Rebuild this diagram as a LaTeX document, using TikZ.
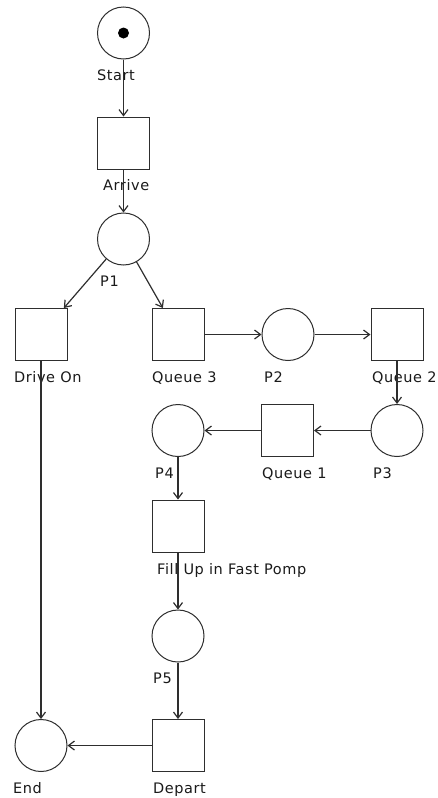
\documentclass[tikz,border=0pt]{standalone}
\usepackage{fontspec}
\setmainfont{DejaVu Sans}
\newfontfamily\lblfont[LetterSpace=4]{DejaVu Sans}
\usetikzlibrary{arrows.meta}
\definecolor{ln}{HTML}{2E2E2E}
\definecolor{tx}{HTML}{1A1A1A}
\begin{document}
\begin{tikzpicture}[x=1pt,y=-1pt,
 place/.style={circle,draw=ln,line width=1pt,minimum size=52pt,inner sep=0pt},
 trans/.style={rectangle,draw=ln,line width=1pt,minimum size=52pt,inner sep=0pt},
 token/.style={circle,fill=black,minimum size=11pt,inner sep=0pt},
 lbl/.style={anchor=base west,inner sep=0pt,font=\lblfont\fontsize{14.5}{16}\selectfont,text=tx},
 arc/.style={draw=ln,line width=1.2pt,-{Straight Barb[length=6pt,width=9pt]}}]
\useasboundingbox (0,0) rectangle (438,798);
% places and transitions
\node[place] (start) at (123.5,33) {};
\node[token] (tok) at (start) {};
\node[trans] (arrive) at (123.5,143) {};
\node[place] (p1) at (123.5,239) {};
\node[trans] (drive) at (41,334.5) {};
\node[trans] (q3) at (178,334.5) {};
\node[place] (p2) at (288,334.5) {};
\node[trans] (q2) at (397,334.5) {};
\node[place] (p3) at (397,430.5) {};
\node[trans] (q1) at (287.5,430.5) {};
\node[place] (p4) at (178,430.5) {};
\node[trans] (fill) at (178,526) {};
\node[place] (p5) at (178,636) {};
\node[trans] (depart) at (178,745.5) {};
\node[place] (end) at (41,745.5) {};
% labels
\node[lbl] (lstart) at (97,80) {Start};
\node[lbl] (larrive) at (103,190) {Arrive};
\node[lbl] (lp1) at (100,286) {P1};
\node[lbl] (ldrive) at (14,382) {Drive On};
\node[lbl] (lq3) at (152,382) {Queue 3};
\node[lbl] (lp2) at (264,382) {P2};
\node[lbl] (lq2) at (372,382) {Queue 2};
\node[lbl] (lp3) at (373,478) {P3};
\node[lbl] (lq1) at (262,478) {Queue 1};
\node[lbl] (lp4) at (155,478) {P4};
\node[lbl] (lfill) at (157,574) {Fill Up in Fast Pomp};
\node[lbl] (lp5) at (153,683) {P5};
\node[lbl] (ldepart) at (153,793) {Depart};
\node[lbl] (lend) at (13,793) {End};
% arcs
\draw[arc] (start) -- (arrive);
\draw[arc] (arrive) -- (p1);
\draw[arc] (p1) -- (drive);
\draw[arc] (p1) -- (q3);
\draw[arc] (q3) -- (p2);
\draw[arc] (p2) -- (q2);
\draw[arc] (q2) -- (p3);
\draw[arc] (p3) -- (q1);
\draw[arc] (q1) -- (p4);
\draw[arc] (p4) -- (fill);
\draw[arc] (fill) -- (p5);
\draw[arc] (p5) -- (depart);
\draw[arc] (depart) -- (end);
\draw[arc] (drive) -- (end);
\end{tikzpicture}
\end{document}
